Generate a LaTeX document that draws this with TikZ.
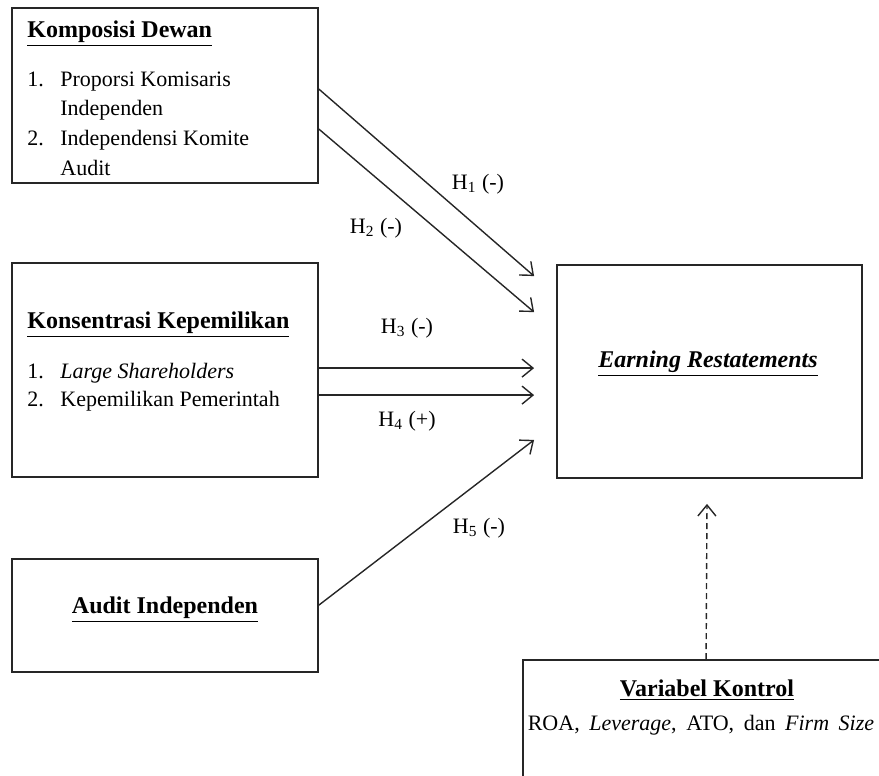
\documentclass[tikz,border=0pt]{standalone}
\usepackage{fontspec}
\setmainfont{Liberation Serif}
\usetikzlibrary{calc,arrows.meta,positioning,fit}
\tikzset{
    kotak/.style={draw=black!85, line width=0.9pt, inner sep=0pt},
    teks/.style={inner sep=0pt, anchor=base west},
    judul/.style={inner sep=0pt, anchor=base west, font=\fontsize{12}{14.5}\selectfont\bfseries},
    tengah/.style={inner sep=0pt, anchor=base},
    hlabel/.style={inner sep=0pt},
    panah/.style={draw=black!85, line width=0.7pt, -{Straight Barb[length=5.5pt,width=9pt]}},
}

\begin{document}
\begin{tikzpicture}[x=0.5pt, y=-0.5pt, font=\fontsize{11}{14.5}\selectfont]
    \useasboundingbox (0,0) rectangle (879,776);
    \clip (0,0) rectangle (879,776);

    % kotak variabel
    \node [kotak, fit={(12,8) (318,183)}] (dewan) {};
    \node [kotak, fit={(12,263) (318,477)}] (milik) {};
    \node [kotak, fit={(12,559) (318,672)}] (audit) {};
    \node [kotak, fit={(557,265) (862,478)}] (er) {};
    \node [kotak, fit={(523,660) (892,800)}] (kontrol) {};

    % isi kotak
    \node [judul] (dewanjudul) at (27,37) {\underline{Komposisi Dewan}};
    \node [teks] (dewann1) at (27,86) {1.};
    \node [teks] (dewan1a) at (60,86) {Proporsi Komisaris};
    \node [teks] (dewan1b) at (60,115.5) {Independen};
    \node [teks] (dewann2) at (27,145.5) {2.};
    \node [teks] (dewan2a) at (60,145.5) {Independensi Komite};
    \node [teks] (dewan2b) at (60,175) {Audit};

    \node [judul] (milikjudul) at (27,328) {\underline{Konsentrasi Kepemilikan}};
    \node [teks] (milikn1) at (27,378) {1.};
    \node [teks] (milik1) at (60,378) {\textit{Large Shareholders}};
    \node [teks] (milikn2) at (27,406) {2.};
    \node [teks] (milik2) at (60,406) {Kepemilikan Pemerintah};

    \node [judul, anchor=base] (auditjudul) at (165,613) {\underline{Audit Independen}};
    \node [judul, anchor=base] (erjudul) at (708,367) {\itshape\underline{Earning Restatements}};
    \node [judul, anchor=base] (kontroljudul) at (707,696) {\underline{Variabel Kontrol}};
    \node [tengah] (kontrolisi) at (701,730) {\spaceskip=4.8pt ROA, \textit{Leverage}, ATO, dan \textit{Firm Size}};

    % hipotesis
    \draw [panah] ($(dewan.north east)+(0,82)$) -- ($(er.north west)+(-22,12)$);
    \draw [panah] ($(dewan.north east)+(0,122)$) -- ($(er.north west)+(-22,48)$);
    \draw [panah] ($(milik.north east)+(0,106)$) -- ($(er.north west)+(-22,104)$);
    \draw [panah] ($(milik.north east)+(0,133)$) -- ($(er.north west)+(-22,131)$);
    \draw [panah] ($(audit.north east)+(0,47)$) -- ($(er.south west)+(-22,-39)$);
    \draw [panah, dash pattern=on 3pt off 2pt] ($(kontrol.north west)+(184,0)$) -- ($(er.south)+(-2.5,25)$);

    \node [hlabel] (h1) at (478,184) {H\textsubscript{1} (-)};
    \node [hlabel] (h2) at (376,228) {H\textsubscript{2} (-)};
    \node [hlabel] (h3) at (407,328) {H\textsubscript{3} (-)};
    \node [hlabel] (h4) at (407,421) {H\textsubscript{4} (+)};
    \node [hlabel] (h5) at (479,528) {H\textsubscript{5} (-)};
\end{tikzpicture}
\end{document}
